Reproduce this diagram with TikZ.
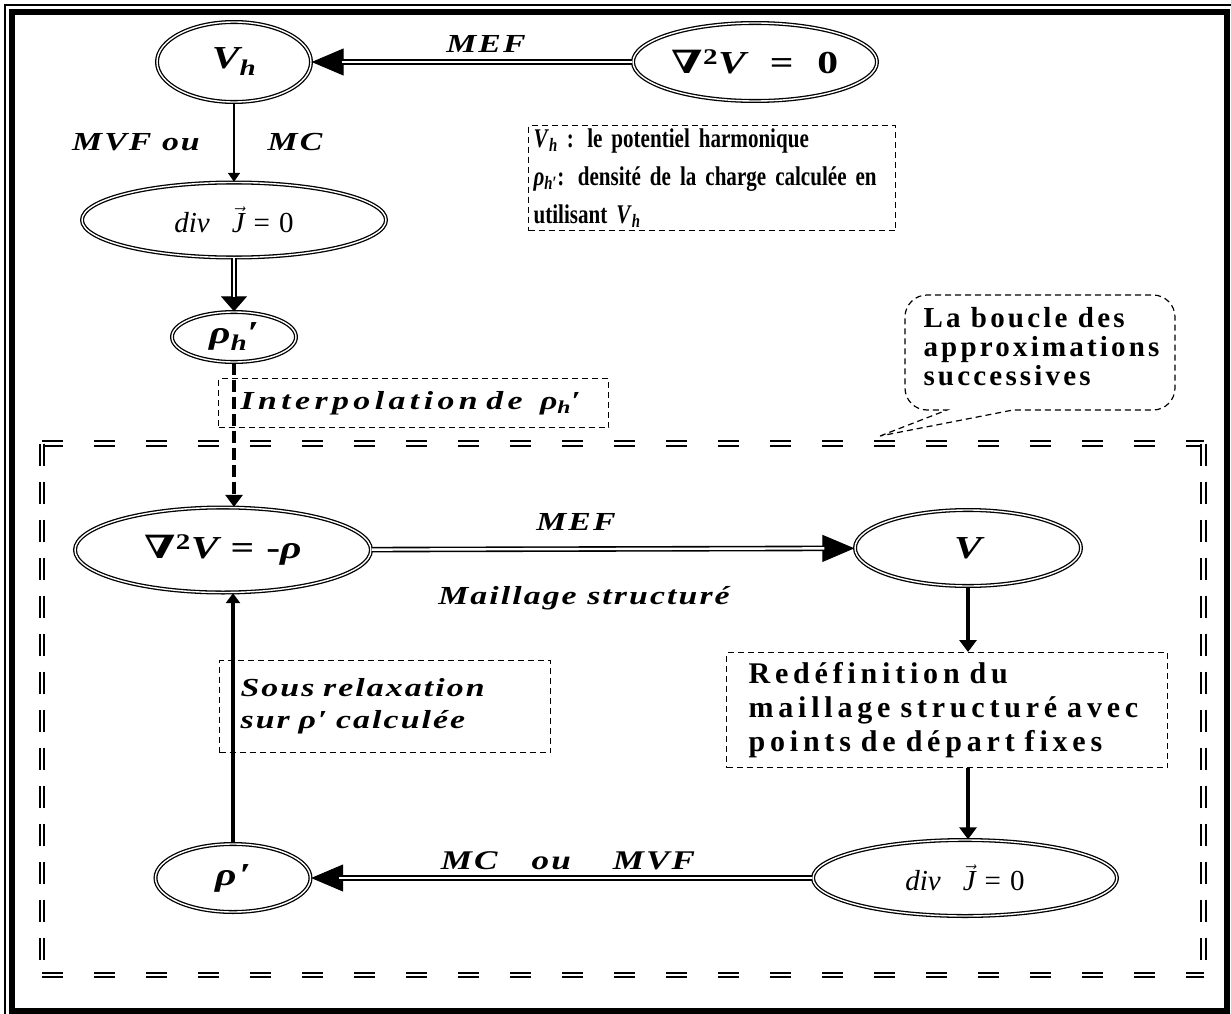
\documentclass[tikz,border=0pt]{standalone}
\usepackage{fontspec}
\setmainfont{Liberation Serif}
\newfontfamily\lblfont[FakeStretch=1.3,LetterSpace=8]{Liberation Serif}
\newfontfamily\wspfont[LetterSpace=11]{Liberation Serif}
\newfontfamily\legfont[FakeStretch=0.78]{Liberation Serif}
\newfontfamily\nablafont[FakeStretch=1.3]{DejaVu Serif}
\usetikzlibrary{arrows.meta,positioning,shapes.geometric}
\newcommand\fsz[2]{\fontsize{#1}{#2}\selectfont}

\begin{document}
\begin{tikzpicture}[
    x=1pt, y=-1pt,
    ell/.style={draw, ellipse, double, line width=1.3pt, double distance=1.4pt, inner sep=0pt},
    dbl/.style={double, line width=1.6pt, double distance=2.4pt},
    bighead/.style={-{Triangle[length=32pt,width=27pt]}, line width=1pt},
    thinarrow/.style={-{Triangle[length=9pt,width=12pt]}, line width=1.6pt},
    thickarrow/.style={-{Triangle[length=12pt,width=17pt]}, line width=3.5pt},
    dbox/.style={draw, dash pattern=on 6pt off 4pt, line width=1.2pt, inner sep=0pt},
    lbl/.style={font=\lblfont\bfseries\itshape\fsz{26}{30}},
    eltxt/.style={font=\lblfont\bfseries\itshape\fsz{32}{32}},
    divtxt/.style={font=\fsz{29}{29}},
    loopline/.style={double, line width=1.8pt, double distance=2.6pt}
]
    \useasboundingbox (0,0) rectangle (1231,1014);

    % frame
    \draw[line width=1.5pt] (1231,5) -- (5,5) -- (5,1014);
    \draw[line width=6pt] (12,12.5) rectangle (1227,1011);

    % harmonic part
    \node[ell, eltxt, minimum width=154pt, minimum height=80pt] (vh) at (234,62) {V\textsubscript{h}};
    \node[ell, eltxt, minimum width=244pt, minimum height=78pt] (nab0) at (755,62)
          {{\upshape\nablafont ∇}\textsuperscript{\upshape 2}V\hspace{24pt}{\upshape =}\hspace{24pt}{\upshape 0}\hspace{18pt}};
    \node[ell, divtxt, minimum width=304pt, minimum height=75pt] (divj) at (234,220)
          {\textit{div}\hspace{22pt}$\vec{\hbox{\itshape J}}$\hspace{9pt}=\hspace{9pt}0};
    \node[ell, eltxt, minimum width=124pt, minimum height=50pt] (rhoh) at (234,337) {ρ\textsubscript{h}′};

    \node[dbox, anchor=north west, minimum width=367pt, minimum height=105pt, inner xsep=5pt, text width=357pt, align=left,
          font=\legfont\bfseries\fsz{27}{38}] (legend) at (528,125)
          {\textit{V}\textsubscript{\textit{h}} : le potentiel harmonique\\
           \textit{ρ}\textsubscript{\textit{h}′}: densité de la charge calculée en\\
           utilisant \textit{V}\textsubscript{\textit{h}}};

    \node[dbox, anchor=north west, minimum width=390pt, minimum height=49pt, inner xsep=12pt, text width=366pt, align=left,
          font=\lblfont\bfseries\itshape\fsz{26}{30}\addfontfeature{LetterSpace=17}] (interp) at (218,378)
          {\hspace*{10pt}Interpolation de\ \ ρ\textsubscript{h}′};

    \node[lbl] (mefa) at (486,44) {MEF};
    \node[lbl] (mvf) at (136,142) {MVF ou};
    \node[lbl] (mc) at (295,142) {MC};

    \draw[bighead] (nab0) -- (vh);
    \draw[dbl, shorten >=30pt] (nab0) -- (vh);
    \draw[thinarrow] (vh) -- (divj);
    \draw[-{Triangle[length=15pt,width=26pt]}, line width=1pt] (divj) -- (rhoh);
    \draw[dbl, shorten >=14pt] (divj) -- (rhoh);

    % loop of successive approximations
    \draw[loopline, dash pattern=on 21pt off 31pt] (42,443.5) -- (1203.5,443.5);
    \draw[loopline, dash pattern=on 21pt off 31pt] (42,975) -- (1203.5,975);
    \draw[loopline, dash pattern=on 22pt off 16pt] (42,443.5) -- (42,975);
    \draw[loopline, dash pattern=on 22pt off 16pt] (1203.5,443.5) -- (1203.5,975);

    \node[font=\wspfont\bfseries\fsz{29}{29}, align=left, anchor=west] (loop) at (920,347)
          {La boucle des\\approximations\\successives};
    \draw[dash pattern=on 6pt off 4pt, line width=1.2pt] (880,436) -- (947,410)
          [rounded corners=22pt] -- (905,410) -- (905,295) -- (1175,295) -- (1175,410)
          [sharp corners] -- (1013,410) -- cycle;

    \node[ell, eltxt, minimum width=296pt, minimum height=85pt] (lapl) at (223,550)
          {{\upshape\nablafont ∇}\textsuperscript{\upshape 2}V\hspace{12pt}{\upshape =}\hspace{12pt}{\upshape -}ρ};
    \node[ell, eltxt, minimum width=226pt, minimum height=76pt] (v) at (968,548) {V};
    \node[ell, divtxt, minimum width=304pt, minimum height=76pt] (divjb) at (965,878)
          {\textit{div}\hspace{22pt}$\vec{\hbox{\itshape J}}$\hspace{9pt}=\hspace{9pt}0};
    \node[ell, eltxt, minimum width=155pt, minimum height=68pt] (rhop) at (233,878) {ρ′};

    \node[dbox, anchor=north west, minimum width=441pt, minimum height=115pt, inner xsep=22pt, text width=397pt, align=left,
          font=\wspfont\bfseries\fsz{30}{34}\addfontfeature{LetterSpace=16}] (redef) at (726,652)
          {Redéfinition du\\maillage structuré avec\\points de départ fixes};
    \node[dbox, anchor=north west, minimum width=331pt, minimum height=92pt, inner xsep=21pt, text width=289pt, align=left,
          font=\lblfont\bfseries\itshape\fsz{26}{32}] (relax) at (219,660)
          {Sous relaxation\\sur ρ′ calculée};

    \node[lbl] (mefb) at (576,522) {MEF};
    \node[lbl] (mail) at (584,598) {Maillage structuré};
    \node[font=\lblfont\bfseries\itshape\fsz{27}{30}] (mcmvf) at (568,861) {MC\hspace{34pt}ou\hspace{42pt}MVF};

    \draw[thickarrow, line width=4pt, dash pattern=on 12pt off 5pt] (rhoh) -- (rhoh |- lapl.north);
    \draw[bighead] (lapl) -- (v);
    \draw[dbl, shorten >=30pt] (lapl) -- (v);
    \draw[thickarrow] (v) -- (v |- redef.north);
    \draw[thickarrow] (redef.south -| v) -- (v |- divjb.north);
    \draw[bighead] (divjb) -- (rhop);
    \draw[dbl, shorten >=28pt] (divjb) -- (rhop);
    \draw[-{Triangle[length=10pt,width=14pt]}, line width=3.5pt] (rhop) -- (rhop |- lapl.south);
\end{tikzpicture}
\end{document}
